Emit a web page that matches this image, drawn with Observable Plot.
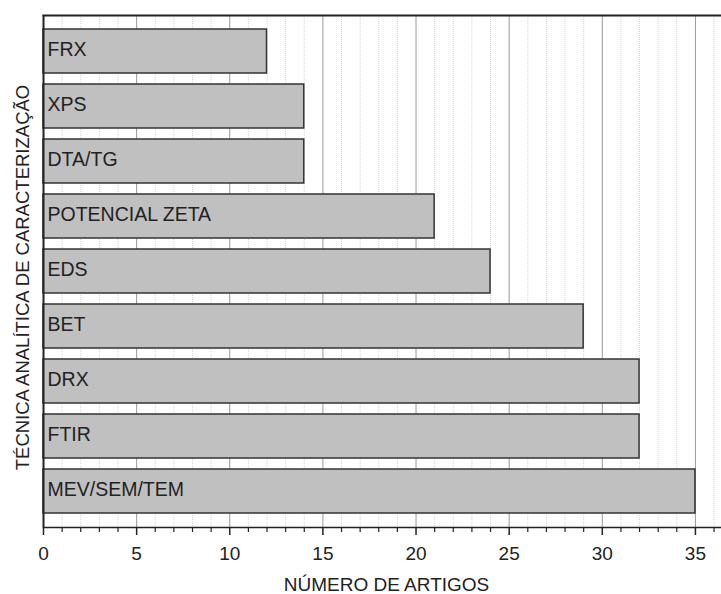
<!DOCTYPE html>
<html>
<head>
<meta charset="utf-8">
<script src="https://cdn.jsdelivr.net/npm/d3@7"></script>
<script src="https://cdn.jsdelivr.net/npm/@observablehq/plot@0.6"></script>
<style>
  html, body { margin: 0; padding: 0; background: #fff; }
  svg { font-family: "Liberation Sans", Arial, sans-serif; }
</style>
</head>
<body>
<div id="chart"></div>
<script>
const techniques = ["FRX", "XPS", "DTA/TG", "POTENCIAL ZETA", "EDS", "BET", "DRX", "FTIR", "MEV/SEM/TEM"];
const counts = [12, 14, 14, 21, 24, 29, 32, 32, 35];
const majorTicks = [0, 5, 10, 15, 20, 25, 30, 35];
const minorTicks = d3.range(1, 37).filter(d => d % 5 !== 0);
const xLabel = "NÚMERO DE ARTIGOS";
const yLabel = "TÉCNICA ANALÍTICA DE CARACTERIZAÇÃO";

const data = techniques.map((t, i) => ({tech: t, value: counts[i]}));

const chart = Plot.plot({
  width: 721,
  height: 594,
  marginTop: 15,
  marginLeft: 43,
  marginRight: 0,
  marginBottom: 67,
  style: {fontFamily: '"Liberation Sans", Arial, sans-serif', color: "#222", background: "#fff"},
  x: {domain: [0, 36.4], label: null},
  y: {domain: techniques, padding: 0.2, axis: null},
  marks: [
    Plot.ruleX(minorTicks, {stroke: "#d4d4d4", strokeDasharray: "1,1"}),
    Plot.ruleX(majorTicks.filter(d => d > 0), {stroke: "#999", strokeWidth: 1}),
    Plot.barX(data, {x: "value", y: "tech", fill: "#c0c0c0", stroke: "#333", strokeWidth: 1.5}),
    Plot.text(data, {y: "tech", text: "tech", frameAnchor: "left", textAnchor: "start", dx: 4, dy: -2, fontSize: 19.5, fill: "#222"}),
    Plot.ruleX([0], {stroke: "#222", strokeWidth: 2}),
    Plot.frame({anchor: "top", stroke: "#222", strokeWidth: 2}),
    Plot.frame({anchor: "bottom", stroke: "#222", strokeWidth: 1.5}),
    Plot.axisX(minorTicks, {tickSize: 5, tickFormat: () => "", stroke: "#222", strokeWidth: 1.2, label: null}),
    Plot.axisX(majorTicks, {tickSize: 8, tickPadding: 11, fontSize: 19, stroke: "#222", fill: "#222", strokeWidth: 1.5, label: null}),
    Plot.text([xLabel], {frameAnchor: "bottom", textAnchor: "middle", dy: 57, dx: 4, lineAnchor: "middle", fontSize: 19, fill: "#222"}),
    Plot.text([yLabel], {frameAnchor: "left", textAnchor: "middle", dx: -20, dy: 6, rotate: -90, lineAnchor: "middle", fontSize: 18.5, fill: "#222"})
  ]
});
document.getElementById("chart").appendChild(chart);
</script>
</body>
</html>
